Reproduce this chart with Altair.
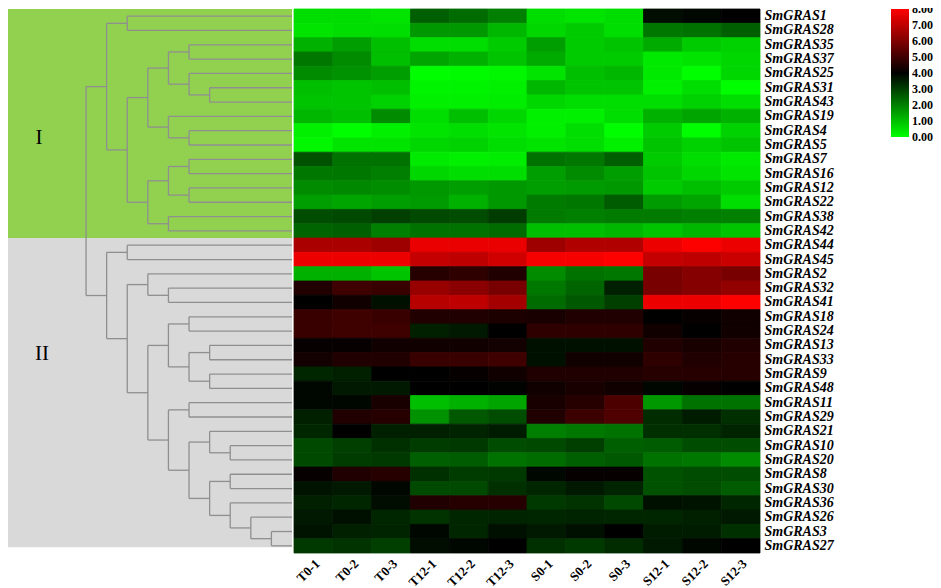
import altair as alt
import pandas as pd

GENES = ["SmGRAS1", "SmGRAS28", "SmGRAS35", "SmGRAS37", "SmGRAS25", "SmGRAS31",
         "SmGRAS43", "SmGRAS19", "SmGRAS4", "SmGRAS5", "SmGRAS7", "SmGRAS16",
         "SmGRAS12", "SmGRAS22", "SmGRAS38", "SmGRAS42", "SmGRAS44", "SmGRAS45",
         "SmGRAS2", "SmGRAS32", "SmGRAS41", "SmGRAS18", "SmGRAS24", "SmGRAS13",
         "SmGRAS33", "SmGRAS9", "SmGRAS48", "SmGRAS11", "SmGRAS29", "SmGRAS21",
         "SmGRAS10", "SmGRAS20", "SmGRAS8", "SmGRAS30", "SmGRAS36", "SmGRAS26",
         "SmGRAS3", "SmGRAS27"]

GROUPS = ["T0", "T12", "S0", "S12"]
SAMPLES = [f"{g}-{r}" for g in GROUPS for r in (1, 2, 3)]

T0_VALUES = [
    [0.5, 0.5, 0.4], [0.4, 0.5, 0.5], [1.2, 1.5, 1.0], [2.1, 1.8, 1.0],
    [1.8, 1.7, 1.5], [1.0, 0.9, 1.0], [0.9, 0.9, 0.7], [1.1, 1.0, 1.8],
    [0.2, 0.0, 0.2], [0.1, 0.4, 0.4], [2.7, 2.2, 2.2], [2.1, 2.1, 2.0],
    [1.8, 1.85, 1.75], [1.5, 1.4, 1.5], [2.8, 2.85, 3.0], [2.4, 2.5, 2.0],
    [6.7, 6.7, 6.5], [7.75, 7.75, 7.75], [1.2, 1.2, 0.9], [4.5, 5.0, 4.9],
    [4.0, 4.25, 3.75], [4.9, 5.0, 4.9], [4.9, 5.0, 5.0], [4.1, 4.1, 4.25],
    [4.3, 4.5, 4.5], [3.4, 3.5, 4.0], [3.9, 3.6, 3.6], [3.9, 3.9, 4.4],
    [3.5, 4.5, 4.6], [3.4, 4.0, 3.5], [2.85, 3.0, 3.25], [2.85, 3.05, 3.1],
    [4.1, 4.5, 4.6], [3.7, 3.6, 3.9], [3.5, 3.4, 3.8], [3.6, 3.75, 3.4],
    [3.7, 3.5, 3.45], [3.1, 3.2, 3.0]]

T12_VALUES = [
    [2.5, 2.3, 2.0], [1.6, 1.6, 1.1], [0.5, 0.5, 0.8], [1.4, 1.2, 0.9],
    [0.0, 0.05, 0.1], [0.15, 0.15, 0.2], [0.2, 0.2, 0.25], [0.5, 1.0, 0.6],
    [0.4, 0.5, 0.4], [0.6, 0.7, 0.5], [0.3, 0.2, 0.25], [0.6, 0.5, 0.5],
    [1.6, 1.5, 1.6], [1.55, 1.2, 1.6], [2.85, 2.8, 3.05], [2.2, 2.2, 2.3],
    [7.7, 7.7, 7.7], [7.1, 7.0, 7.3], [4.6, 4.75, 4.5], [6.4, 6.2, 5.9],
    [6.9, 7.0, 6.6], [4.5, 4.5, 4.45], [3.5, 3.6, 4.0], [4.25, 4.25, 4.3],
    [4.9, 4.9, 5.0], [4.0, 4.1, 4.25], [4.0, 4.0, 3.95], [1.0, 1.2, 1.4],
    [1.7, 2.6, 2.8], [3.5, 3.45, 3.55], [3.05, 3.1, 2.8], [2.5, 2.55, 2.2],
    [3.25, 3.05, 3.1], [2.85, 2.85, 3.25], [4.5, 4.6, 4.6], [3.2, 3.4, 3.45],
    [3.9, 3.4, 3.75], [3.8, 3.9, 4.0]]

S0_VALUES = [
    [0.5, 0.4, 0.5], [0.6, 0.8, 0.5], [1.5, 0.8, 0.9], [1.3, 0.8, 0.8],
    [0.4, 1.0, 1.1], [1.1, 0.9, 0.9], [0.6, 0.5, 0.5], [0.2, 0.2, 0.5],
    [0.2, 0.5, 0.0], [0.4, 0.5, 0.2], [2.2, 2.1, 2.5], [1.5, 1.8, 1.5],
    [1.5, 1.55, 1.6], [2.05, 2.1, 2.55], [2.05, 2.0, 2.05], [1.0, 1.0, 1.1],
    [6.5, 6.8, 6.8], [7.9, 7.9, 8.0], [1.8, 2.2, 2.1], [2.1, 2.4, 3.5],
    [2.3, 2.6, 3.0], [4.4, 4.5, 4.5], [4.75, 4.75, 4.75], [3.75, 3.75, 3.75],
    [3.75, 4.25, 4.25], [4.5, 4.5, 4.5], [4.25, 4.4, 4.25], [4.4, 4.6, 5.2],
    [4.5, 4.95, 5.25], [2.0, 2.1, 2.2], [2.85, 3.0, 2.5], [2.3, 2.5, 2.6],
    [3.9, 4.1, 4.1], [3.4, 3.6, 3.45], [3.1, 3.2, 2.85], [3.4, 3.45, 3.4],
    [3.6, 3.75, 4.0], [3.25, 3.1, 3.3]]

S12_VALUES = [
    [3.8, 3.9, 4.0], [2.1, 2.2, 2.5], [1.3, 0.8, 0.7], [0.3, 0.4, 0.6],
    [0.3, 0.0, 0.6], [0.2, 0.5, 0.0], [0.5, 0.7, 0.5], [1.2, 1.4, 1.2],
    [0.8, 0.0, 0.7], [0.9, 0.7, 0.9], [0.8, 0.5, 0.3], [0.9, 0.6, 0.4],
    [0.8, 1.0, 0.8], [1.55, 1.4, 0.5], [2.05, 2.0, 2.0], [0.9, 1.1, 0.9],
    [7.75, 8.0, 7.75], [7.1, 7.0, 7.2], [5.9, 6.1, 5.9], [5.9, 6.1, 6.3],
    [7.75, 7.75, 8.0], [4.0, 4.1, 4.25], [4.25, 4.0, 4.25], [4.5, 4.4, 4.5],
    [4.75, 4.5, 4.6], [4.6, 4.6, 4.6], [3.9, 4.1, 4.0], [1.6, 2.2, 2.2],
    [3.3, 3.55, 3.25], [3.25, 3.25, 3.45], [2.55, 2.8, 2.8], [2.2, 2.1, 1.8],
    [2.7, 2.8, 2.8], [2.7, 2.8, 2.55], [3.75, 3.7, 3.4], [3.4, 3.5, 3.6],
    [3.55, 3.55, 3.25], [3.6, 3.9, 4.0]]

# Dendrogram: (node, child_a, child_b, merge level); ints are row indices,
# level 0 = root, LEAF_LEVEL = leaves.
LEAF_LEVEL = 10
X_MIN = -3.79
MERGES = [
    ("A", 0, 1, 2), ("B", 2, 3, 5), ("C", 5, 6, 6), ("D", 4, "C", 5),
    ("E", "B", "D", 4), ("F", 8, 9, 5), ("G", 7, "F", 4), ("H", "E", "G", 3),
    ("I", 10, 11, 5), ("J", 12, 13, 5), ("K", "I", "J", 4), ("L", 14, 15, 4),
    ("M", "K", "L", 3), ("N", "H", "M", 2), ("O", "A", "N", 1),
    ("P", 16, 17, 2), ("Q", 19, 20, 4), ("R", 18, "Q", 3), ("S", 21, 22, 5),
    ("T", 23, 24, 6), ("U", 25, 26, 6), ("V", "T", "U", 5), ("W", "S", "V", 4),
    ("X", 27, 28, 5), ("Y", 30, 31, 7), ("Z", 29, "Y", 6), ("AA", 32, 33, 7),
    ("AB", 36, 37, 9), ("AC", 35, "AB", 8), ("AD", 34, "AC", 7),
    ("AE", "AA", "AD", 6), ("AF", "Z", "AE", 5), ("AG", "X", "AF", 4),
    ("AH", "W", "AG", 3), ("AI", "R", "AH", 2), ("AJ", "P", "AI", 1),
    ("ROOT", "O", "AJ", 0),
]

CLADE_NAMES = ["I", "II"]
CLADE_START = [0, 16]
CLADE_END = [16, 37.6]
CLADE_COLORS = ["#92D050", "#D9D9D9"]
CLADE_LABEL_ROW = [9.0, 24.1]
CLADE_LABEL_LEVEL = [-2.28, -2.14]

# colour ramp (domain slightly padded so the 0.00 / 8.00 labels centre on ticks)
HEAT_DOMAIN = [-0.03, 4, 8.03]
HEAT_RANGE = ["#00ff00", "#000000", "#ff0000"]
LEGEND_VALUES = [0, 1, 2, 3, 4, 5, 6, 7, 8]


def edge_hex(v):
    """Same green-black-red ramp, used only for the thin seam-hiding outline."""
    lo, mid, hi = HEAT_DOMAIN
    if v <= mid:
        g = round(255 * (mid - v) / (mid - lo))
        return f"#00{g:02x}00"
    r = round(255 * min(1.0, (v - mid) / (hi - mid)))
    return f"#{r:02x}0000"


# ---------- build tables ----------
rows = []
for gi, g in enumerate(GENES):
    for grp, arr in zip(GROUPS, [T0_VALUES, T12_VALUES, S0_VALUES, S12_VALUES]):
        for r in range(3):
            v = arr[gi][r]
            rows.append({"gene": g, "sample": f"{grp}-{r + 1}", "value": v,
                         "edge": edge_hex(v)})
heat_df = pd.DataFrame(rows)

pos = {i: (i + 0.5, LEAF_LEVEL) for i in range(len(GENES))}
segs = []
for name, a, b, h in MERGES:
    ya, ha = pos[a]
    yb, hb = pos[b]
    segs.append({"x": h, "x2": ha, "y": ya, "y2": ya})
    segs.append({"x": h, "x2": hb, "y": yb, "y2": yb})
    segs.append({"x": h, "x2": h, "y": ya, "y2": yb})
    pos[name] = ((ya + yb) / 2, h)
seg_df = pd.DataFrame(segs)

clade_df = pd.DataFrame({
    "name": CLADE_NAMES, "start": CLADE_START, "end": CLADE_END,
    "color": CLADE_COLORS, "label_row": CLADE_LABEL_ROW,
    "label_level": CLADE_LABEL_LEVEL,
    "left": [X_MIN] * 2, "right": [LEAF_LEVEL] * 2,
})

H = 544
xs = alt.Scale(domain=[X_MIN, LEAF_LEVEL], nice=False, zero=False)
ys = alt.Scale(domain=[0, len(GENES)], reverse=True, nice=False, zero=False)

boxes = alt.Chart(clade_df).mark_rect().encode(
    x=alt.X("left:Q", scale=xs, axis=None),
    x2="right:Q",
    y=alt.Y("start:Q", scale=ys, axis=None),
    y2="end:Q",
    color=alt.Color("color:N", scale=None),
)
labels = alt.Chart(clade_df).mark_text(
    font="Liberation Serif", fontSize=21, color="black"
).encode(
    x=alt.X("label_level:Q", scale=xs, axis=None),
    y=alt.Y("label_row:Q", scale=ys, axis=None),
    text="name:N",
)
lines = alt.Chart(seg_df).mark_rule(color="#8f8f8f", strokeWidth=1.3).encode(
    x=alt.X("x:Q", scale=xs, axis=None),
    x2="x2:Q",
    y=alt.Y("y:Q", scale=ys, axis=None),
    y2="y2:Q",
)
dendro = alt.layer(boxes, labels, lines).properties(width=284, height=H)

heat = alt.Chart(heat_df).mark_rect(strokeWidth=0.8).encode(
    x=alt.X("sample:N", sort=SAMPLES, title=None,
            axis=alt.Axis(labelAngle=-45, labelFont="Liberation Serif",
                          labelFontWeight="bold", labelFontSize=13,
                          labelColor="black", ticks=False, domain=False,
                          labelPadding=4)),
    y=alt.Y("gene:N", sort=GENES, title=None,
            axis=alt.Axis(orient="right", labelFont="Liberation Serif",
                          labelFontStyle="italic", labelFontWeight="bold",
                          labelFontSize=14, labelColor="black", ticks=False,
                          domain=False, labelPadding=4)),
    color=alt.Color("value:Q",
                    scale=alt.Scale(domain=HEAT_DOMAIN, range=HEAT_RANGE,
                                    interpolate="rgb"),
                    legend=alt.Legend(type="gradient", title=None, orient="none",
                                      legendX=883, legendY=0,
                                      direction="vertical",
                                      gradientLength=128, gradientThickness=18,
                                      values=LEGEND_VALUES,
                                      format=".2f", labelFont="Liberation Serif",
                                      labelFontWeight="bold", labelFontSize=12,
                                      labelColor="black", labelOffset=3,
                                      labelBaseline="middle",
                                      labelOverlap=False, gradientStrokeWidth=0)),
    stroke=alt.Stroke("edge:N", scale=None),
).properties(width=466, height=H)

chart = alt.hconcat(dendro, heat, spacing=0).properties(padding=0).configure_view(
    stroke=None
)

chart.save("out.html", embed_options={"renderer": "svg", "actions": False})
